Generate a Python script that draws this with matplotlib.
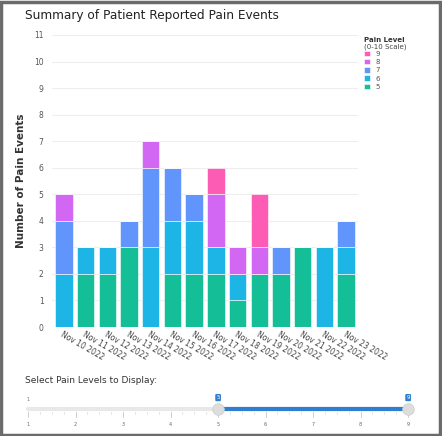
import matplotlib.pyplot as plt
import matplotlib.patches as patches
import numpy as np

dates = ['Nov 10 2022', 'Nov 11 2022', 'Nov 12 2022', 'Nov 13 2022', 'Nov 14 2022',
         'Nov 15 2022', 'Nov 16 2022', 'Nov 17 2022', 'Nov 18 2022', 'Nov 19 2022',
         'Nov 20 2022', 'Nov 21 2022', 'Nov 22 2022', 'Nov 23 2022']
level5 = [0, 2, 2, 3, 0, 2, 2, 2, 1, 2, 2, 3, 0, 2]
level6 = [2, 1, 1, 0, 3, 2, 2, 1, 1, 0, 0, 0, 3, 1]
level7 = [2, 0, 0, 1, 3, 2, 1, 0, 0, 0, 1, 0, 0, 1]
level8 = [1, 0, 0, 0, 1, 0, 0, 2, 1, 1, 0, 0, 0, 0]
level9 = [0, 0, 0, 0, 0, 0, 0, 1, 0, 2, 0, 0, 0, 0]
levels = ['5', '6', '7', '8', '9']
colors = ['#14be96', '#1cb5e6', '#6295fb', '#d267f3', '#fd5cb4']
slider_marks = [1, 2, 3, 4, 5, 6, 7, 8, 9]
slider_range = (5, 9)

W, H = 442, 436
fig = plt.figure(figsize=(W / 100, H / 100), dpi=100)

def px(x0, y0, x1, y1):
    # pixel box (top-left origin) -> figure fraction rect
    return [x0 / W, 1 - y1 / H, (x1 - x0) / W, (y1 - y0) / H]

# outer frame
fig.patches.append(patches.Rectangle((0.002, 0.002), 0.993, 0.993, transform=fig.transFigure,
                                     fill=False, edgecolor='#6b6b6b', linewidth=2.5))

fig.text(25 / W, 1 - 16 / H, 'Summary of Patient Reported Pain Events', fontsize=8.7,
         color='#222222', ha='left', va='center')

ax = fig.add_axes(px(52, 35, 358, 327))
x = np.arange(len(dates))
bottom = np.zeros(len(dates))
series = [level5, level6, level7, level8, level9]
handles = []
for name, vals, c in zip(levels, series, colors):
    b = ax.bar(x, vals, 0.8, bottom=bottom, color=c, edgecolor='white', linewidth=0.4, label=name)
    handles.append(b)
    bottom += np.array(vals)

ax.set_xlim(-0.55, len(dates) - 0.45)
ax.set_ylim(0, 11)
ax.set_yticks(range(0, 12))
ax.tick_params(axis='y', labelsize=5.5, colors='#555555', length=0, pad=6)
ax.tick_params(axis='x', length=0, pad=2)
ax.set_xticks(x)
ax.set_xticklabels(dates, rotation=-30, ha='left', va='top', rotation_mode='anchor',
                   fontsize=5.5, color='#444444')
ax.grid(axis='y', color='#eeeeee', linewidth=0.8)
ax.set_axisbelow(True)
for s in ax.spines.values():
    s.set_visible(False)
ax.set_ylabel('Number of Pain Events', fontsize=7.5, fontweight='bold', color='#333333', labelpad=6)

# legend
fig.text(364 / W, 1 - 40 / H, 'Pain Level', fontsize=5, fontweight='bold', color='#333333',
         ha='left', va='center')
fig.text(364 / W, 1 - 47 / H, '(0-10 Scale)', fontsize=5, color='#444444', ha='left', va='center')
ax.legend(handles[::-1], levels[::-1], loc='upper left', bbox_to_anchor=(364 / W, 1 - 51 / H),
          bbox_transform=fig.transFigure, frameon=False, fontsize=5, handlelength=0.8,
          handleheight=0.8, handletextpad=0.9, labelspacing=0.3, borderpad=0,
          borderaxespad=0, labelcolor='#555555')

# range slider
fig.text(25 / W, 1 - 380 / H, 'Select Pain Levels to Display:', fontsize=6.5,
         color='#333333', ha='left', va='center')
sax = fig.add_axes(px(20, 390, 420, 428))
sax.set_xlim(0.83, 9.25)
sax.set_ylim(0, 1)
sax.axis('off')
sax.plot([1, 9], [0.5, 0.5], color='#e8e8e8', linewidth=3, solid_capstyle='round')
sax.plot(slider_range, [0.5, 0.5], color='#2f7fd0', linewidth=3)
for m in slider_marks:
    sax.plot([m, m], [0.3, 0.42], color='#bbbbbb', linewidth=0.5)
    sax.text(m, 0.1, str(m), fontsize=3.5, color='#666666', ha='center', va='center')
for m in np.arange(1, 9, 0.25):
    sax.plot([m, m], [0.36, 0.42], color='#cccccc', linewidth=0.4)
sax.text(1, 0.75, '1', fontsize=3.5, color='#777777', ha='center', va='center')
for v in slider_range:
    sax.scatter([v], [0.5], s=70, color='#dddddd', edgecolor='#cccccc', linewidth=0.5, zorder=3)
    sax.text(v, 0.8, str(v), fontsize=4, color='white', ha='center', va='center',
             bbox=dict(boxstyle='round,pad=0.2', fc='#2f7fd0', ec='none'))

fig.savefig('out.png', dpi=100)
